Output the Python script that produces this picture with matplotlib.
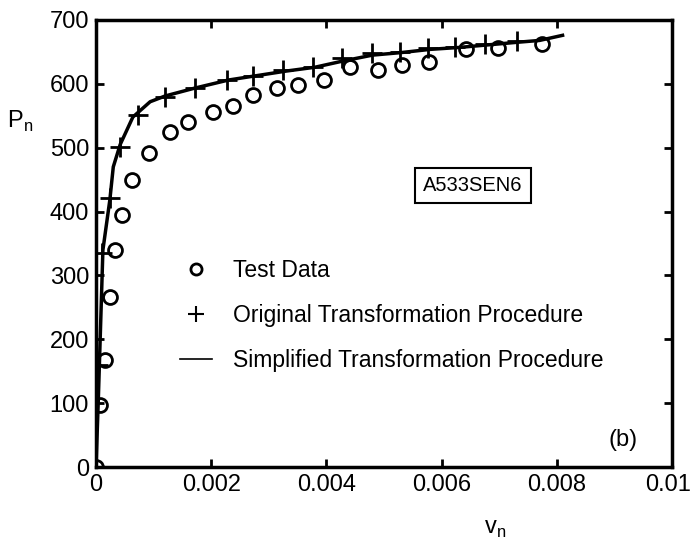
import matplotlib
matplotlib.use("Agg")
import matplotlib.pyplot as plt
from matplotlib.lines import Line2D
import matplotlib.transforms as mtransforms

plt.rcParams['font.family'] = ['Liberation Sans', 'DejaVu Sans']

# Test data (circles)
test_v = [0, 0.00007, 0.00016, 0.00024, 0.00033, 0.00045, 0.00062, 0.00092, 0.00128, 0.0016,
          0.00203, 0.00238, 0.00273, 0.00314, 0.00351, 0.00396, 0.00441, 0.0049, 0.00531,
          0.00578, 0.00642, 0.00698, 0.00775]
test_P = [0, 97, 167, 266, 340, 394, 449, 491, 524, 540,
          556, 566, 582, 593, 598, 606, 626, 621, 629,
          635, 654, 656, 662]

# Original transformation procedure (plus)
orig_v = [0, 0.00004, 0.0001, 0.00024, 0.00042, 0.00073, 0.0012, 0.00172, 0.00227, 0.00273,
          0.00325, 0.00377, 0.00427, 0.00479, 0.00528, 0.00576, 0.00623, 0.00675, 0.00731]
orig_P = [0, 160, 335, 421, 501, 551, 579, 593, 606, 613,
          621, 626, 640, 648, 650, 656, 658, 663, 667]

# Simplified transformation procedure (line)
simp_v = [0, 0.00004, 0.00012, 0.00024, 0.0003, 0.00042, 0.00064, 0.00094, 0.0012, 0.0017,
          0.0023, 0.0028, 0.0033, 0.0038, 0.0043, 0.0048, 0.0053, 0.0058, 0.0063, 0.0068,
          0.0073, 0.0077, 0.0081]
simp_P = [0, 105, 340, 418, 470, 505, 548, 572, 581, 593,
          606, 613, 620, 626, 636, 645, 649, 654, 657, 661,
          665, 668, 676]

xticks = [0, 0.002, 0.004, 0.006, 0.008, 0.01]
xticklabels = ['0', '0.002', '0.004', '0.006', '0.008', '0.01']
yticks = [0, 100, 200, 300, 400, 500, 600, 700]

fig = plt.figure(figsize=(6.94, 5.41), dpi=100)
ax = fig.add_axes([96/694, (541-467)/541, 576/694, 447/541])

ax.plot(simp_v, simp_P, '-', color='black', lw=2.5, zorder=2)
ax.plot(orig_v, orig_P, '+', color='black', ms=15, mew=2, zorder=3)
ax.plot(test_v, test_P, 'o', mfc='none', mec='black', ms=10, mew=2, zorder=4)

ax.set_xlim(0, 0.01)
ax.set_ylim(0, 700)
ax.set_xticks(xticks)
ax.set_xticklabels(xticklabels)
ax.set_yticks(yticks)
ax.tick_params(direction='in', length=6, width=2, top=True, right=True,
               labelsize=17, pad=5)
for s in ax.spines.values():
    s.set_linewidth(2.5)

# nudge last x tick label slightly left so it stays inside the figure
last = ax.get_xticklabels()[-1]
last.set_transform(last.get_transform() + mtransforms.ScaledTranslation(-4/100, 0, fig.dpi_scale_trans))

ax.set_xlabel('v$_\\mathregular{n}$', fontsize=17)
ax.xaxis.set_label_coords(0.693, -0.115)
ax.set_ylabel('P$_\\mathregular{n}$', fontsize=17, rotation=0)
ax.yaxis.set_label_coords(-0.132, 0.745)

handles = [Line2D([], [], ls='none', marker='o', mfc='none', mec='black', ms=8, mew=2),
           Line2D([], [], ls='none', marker='+', color='black', ms=11, mew=1.5),
           Line2D([], [], ls='-', color='black', lw=1.2)]
labels = ['Test Data', 'Original Transformation Procedure', 'Simplified Transformation Procedure']
ax.legend(handles, labels, loc='upper left', bbox_to_anchor=(0.13, 0.485), frameon=False,
          fontsize=16.5, handlelength=1.4, handletextpad=0.9, labelspacing=0.95,
          borderaxespad=0)

ax.text(0.654, 0.63, 'A533SEN6', transform=ax.transAxes, fontsize=14.5,
        ha='center', va='center',
        bbox=dict(boxstyle='square,pad=0.4', fc='white', ec='black', lw=1.5))
ax.text(0.915, 0.06, '(b)', transform=ax.transAxes, fontsize=17, ha='center', va='center')

fig.savefig('out.png', dpi=100)
